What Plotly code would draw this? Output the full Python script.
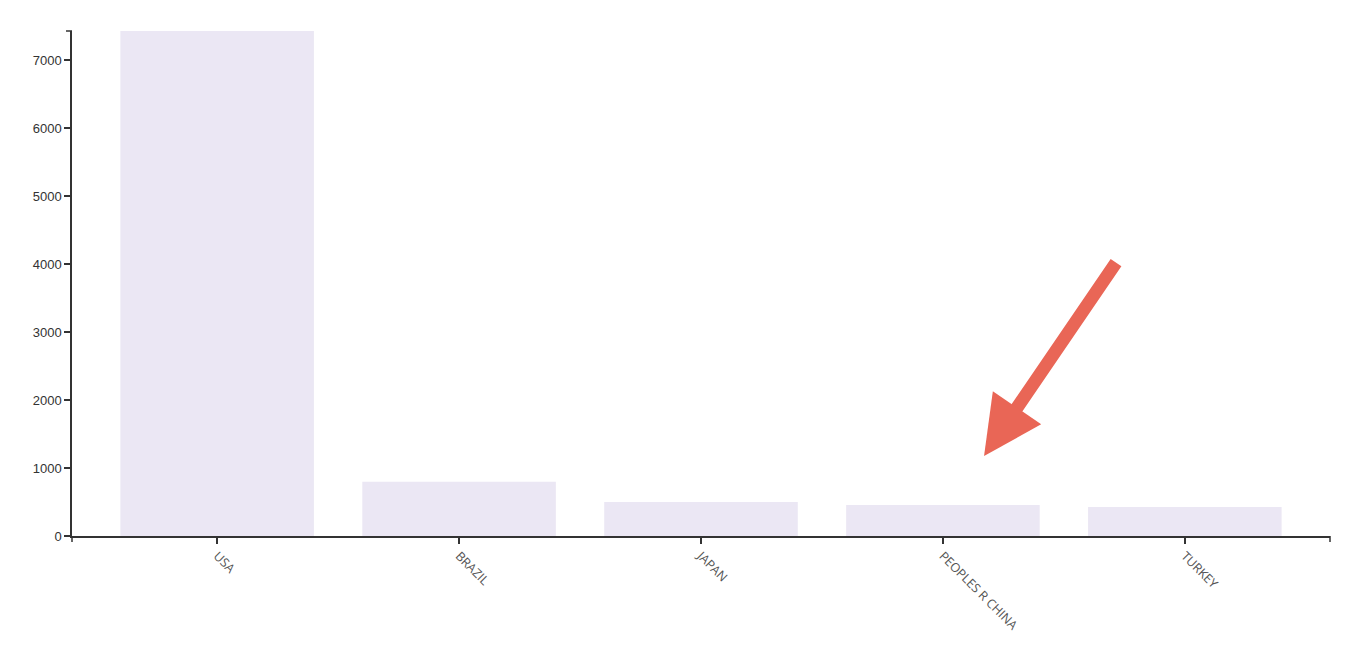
import plotly.graph_objects as go

countries = ["USA", "BRAZIL", "JAPAN", "PEOPLES R CHINA", "TURKEY"]
counts = [7430, 800, 500, 456, 426]
y_ticks = [0, 1000, 2000, 3000, 4000, 5000, 6000, 7000]

bar_color = "#ebe7f4"
axis_color = "#333333"
arrow_color = "#e96656"

fig = go.Figure()
fig.add_trace(go.Bar(
    x=countries, y=counts,
    marker=dict(color=bar_color, line=dict(width=0)),
    hoverinfo="x+y",
))

fig.update_layout(
    width=1356, height=650,
    margin=dict(l=64, r=34, t=23, b=122),
    paper_bgcolor="white", plot_bgcolor="white",
    bargap=0.2,
    showlegend=False,
    font=dict(family="Liberation Sans, Arial, sans-serif", size=12, color=axis_color),
    xaxis=dict(
        type="category",
        range=[-0.6, len(countries) - 0.4],
        showline=True, linecolor=axis_color, linewidth=1.5,
        ticks="outside", ticklen=6, tickcolor=axis_color, tickwidth=1.5,
        tickangle=45,
        tickfont=dict(family="Open Sans, Liberation Sans, sans-serif", size=12.5, color="#555555"),
        showgrid=False, zeroline=False,
    ),
    yaxis=dict(
        range=[0, max(counts)],
        tickvals=y_ticks,
        showline=True, linecolor=axis_color, linewidth=1.5,
        ticks="outside", ticklen=6, tickcolor=axis_color, tickwidth=1.5,
        tickfont=dict(family="Liberation Sans, Arial, sans-serif", size=13, color="#333333"),
        showgrid=False, zeroline=False,
    ),
)

# d3-style outer ticks at ends of domain lines
fig.add_shape(type="line", xref="paper", yref="paper", x0=-6, x1=0, y0=1, y1=1,
              xsizemode="pixel", xanchor=0, line=dict(color=axis_color, width=1.5))
fig.add_shape(type="line", xref="paper", yref="paper", x0=0, x1=0, y0=-6, y1=0,
              ysizemode="pixel", yanchor=0, line=dict(color=axis_color, width=1.5))
fig.add_shape(type="line", xref="paper", yref="paper", x0=1, x1=1, y0=-6, y1=0,
              ysizemode="pixel", yanchor=0, line=dict(color=axis_color, width=1.5))

# highlight arrow pointing at PEOPLES R CHINA
fig.add_annotation(
    x=3.17, y=1176, xref="x", yref="y",
    ax=133, ay=-195, axref="pixel", ayref="pixel",
    text="", showarrow=True,
    arrowhead=2, arrowsize=0.9, arrowwidth=13, arrowcolor=arrow_color,
    standoff=0,
)

fig.write_html("out.html")
